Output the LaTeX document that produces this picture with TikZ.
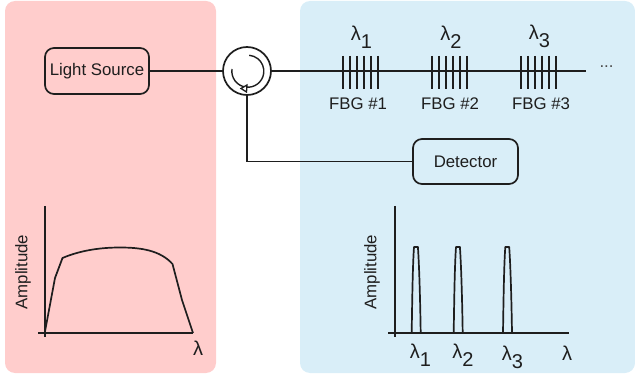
\documentclass[tikz,border=0pt]{standalone}
\usepackage{fontspec}
\setmainfont{Liberation Sans}
\definecolor{pinkpanel}{HTML}{FFCDCC}
\definecolor{bluepanel}{HTML}{D9EEF8}
\definecolor{ink}{HTML}{1E1E1E}
\tikzset{
  panel/.style={rounded corners=10pt,draw=none},
  box/.style={draw=ink,line width=1.7pt,rounded corners=9pt,inner sep=0pt,font=\fontsize{16.8}{18}\selectfont,text=ink},
  wire/.style={draw=ink,line width=1.7pt},
  grating/.style={draw=ink,line width=1.5pt},
  label/.style={inner sep=0pt,font=\fontsize{16.8}{18}\selectfont,text=ink},
  lam/.style={inner sep=0pt,font=\fontsize{20}{22}\selectfont,text=ink},
}
\newcommand{\lamsub}[1]{λ\raisebox{-8pt}{#1}}
\newcommand{\grat}[1]{%
  \foreach \d in {0,7,14,21,28,35}{\draw[grating] ({#1+\d},56)--({#1+\d},89);}}
\begin{document}
\begin{tikzpicture}[x=1pt,y=-1pt]
\useasboundingbox (0,0) rectangle (635,377);
\fill[panel,pinkpanel] (5,1) rectangle (216,373);
\fill[panel,bluepanel] (300,1) rectangle (635,373);
% devices
\node[box,minimum width=104pt,minimum height=46pt] (src) at (97,71) {Light Source};
\node[box,minimum width=105pt,minimum height=45pt] (det) at (465.5,161.5) {Detector};
\node[circle,draw=ink,line width=1.7pt,minimum size=48pt,inner sep=0pt] (circ) at (247,71) {};
\coordinate (fibreEnd) at (586,71);
\draw[wire] (src.east) -- (circ.west);
\draw[wire] (circ.east) -- (fibreEnd);
\draw[wire] (circ.south) |- (det.west);
% circulator arrow
\draw[draw=ink,line width=1.4pt] (232,69) arc[start angle=188,end angle=-85,radius=16];
\draw[draw=ink,line width=1.3pt,fill=white] (241,88.5) -- (247,85) -- (246.5,92) -- cycle;
% gratings
\grat{343}\grat{432}\grat{521}
\node[lam] at (361.5,37) {\lamsub{1}};
\node[lam] at (451,37) {\lamsub{2}};
\node[lam] at (539.5,36) {\lamsub{3}};
\node[label] at (358,104) {FBG \#1};
\node[label] at (450,104) {FBG \#2};
\node[label] at (541,104) {FBG \#3};
\node[label,text=ink!80] at (606.5,67) {...};
% left plot
\draw[wire] (44.7,206) -- (44.7,337);
\draw[wire] (38,333) -- (193,333);
\draw[wire,line join=round] (44.7,333) -- (55,278) -- (62.5,258) .. controls (80,250.5) and (100,247.5) .. (120,247.5) .. controls (140,247.5) and (160,250) .. (172.5,264) -- (182,300) -- (193,333);
\node[label,rotate=90] at (23,272) {Amplitude};
\node[lam] at (198,348) {λ};
% right plot
\draw[wire] (395,206) -- (395,337);
\draw[wire] (388,333) -- (569,333);
\foreach \a in {411.7,453.7,503}{
  \draw[wire,line join=round] (\a,333) .. controls ({\a+0.5},300) and ({\a+1},265) .. ({\a+2.3},247) -- ({\a+6.2},247) .. controls ({\a+7.5},265) and ({\a+8.5},300) .. ({\a+9},333);
}
\node[label,rotate=90] at (372,272) {Amplitude};
\node[lam] at (420.5,355) {\lamsub{1}};
\node[lam] at (463,355) {\lamsub{2}};
\node[lam] at (512.5,357) {\lamsub{3}};
\node[lam] at (567,353.5) {λ};
\end{tikzpicture}
\end{document}
